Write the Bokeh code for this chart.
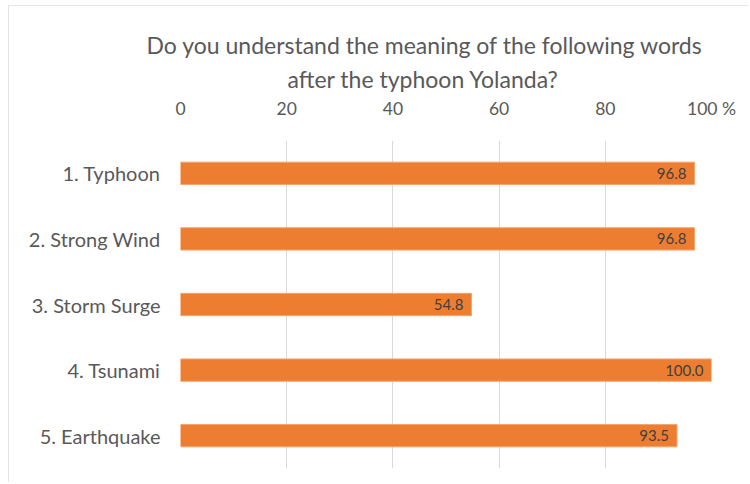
from bokeh.plotting import figure
from bokeh.models import FactorRange, ColumnDataSource, LabelSet, Title, FixedTicker
from bokeh.core.properties import value
from bokeh.embed import file_html
from bokeh.resources import INLINE

categories = ["1. Typhoon", "2. Strong Wind", "3. Storm Surge", "4. Tsunami", "5. Earthquake"]
values = [96.8, 96.8, 54.8, 100.0, 93.5]
tick_values = [0, 20, 40, 60, 80, 100]
tick_labels = ["0", "20", "40", "60", "80", "100 %"]
title_lines = ["Do you understand the meaning  of the following words",
               "after the typhoon Yolanda?"]

FONT = "Lato"
TEXT = "#595959"

src = ColumnDataSource(dict(cat=categories, val=values,
                            lab=[f"{v:.1f}" for v in values]))

W, H = 740, 477
p = figure(width=W, height=H, output_backend="svg", toolbar_location=None,
           y_range=FactorRange(factors=list(reversed(categories))),
           x_range=(0, 100), x_axis_location="above",
           min_border_left=171, min_border_right=38,
           min_border_top=134, min_border_bottom=15)
p.styles = {"margin-left": "8px", "margin-top": "5px",
            "border-top": "1px solid #e4e4e4", "border-left": "1px solid #e4e4e4"}
p.outline_line_color = None

p.hbar(y="cat", right="val", left=0, height=0.34, source=src,
       fill_color="#ED7D31", line_color="#F4A56E", line_width=1)

labels = LabelSet(x="val", y="cat", text="lab", source=src, x_offset=-8,
                  text_align="right", text_baseline="middle",
                  text_font=value(FONT), text_font_size=value("15px"),
                  text_color=value("#404040"))
p.add_layout(labels)

xa = p.xaxis[0]
xa.ticker = FixedTicker(ticks=tick_values)
xa.major_label_overrides = {t: l for t, l in zip(tick_values, tick_labels)}
xa.axis_line_color = None
xa.major_tick_line_color = None
xa.minor_tick_line_color = None
xa.major_label_standoff = 16
xa.major_label_text_font = FONT
xa.major_label_text_font_size = "17.5px"
xa.major_label_text_color = TEXT

ya = p.yaxis[0]
ya.axis_line_color = None
ya.major_tick_line_color = None
ya.major_label_standoff = 14
ya.major_label_text_font = FONT
ya.major_label_text_font_size = "20px"
ya.major_label_text_color = TEXT

p.xgrid.ticker = FixedTicker(ticks=tick_values)
p.xgrid.grid_line_color = "#d9d9d9"
p.ygrid.grid_line_color = None

# line 2 first (closest to the axis), then line 1 above it
for t, off, so in [(title_lines[1], 107, 4), (title_lines[0], -34, 3)]:
    p.add_layout(Title(text=t, align="left", offset=off, standoff=so,
                       text_font=FONT, text_font_size="23px",
                       text_font_style="normal", text_color=TEXT), "above")

open("out.html", "w").write(file_html(p, INLINE))
